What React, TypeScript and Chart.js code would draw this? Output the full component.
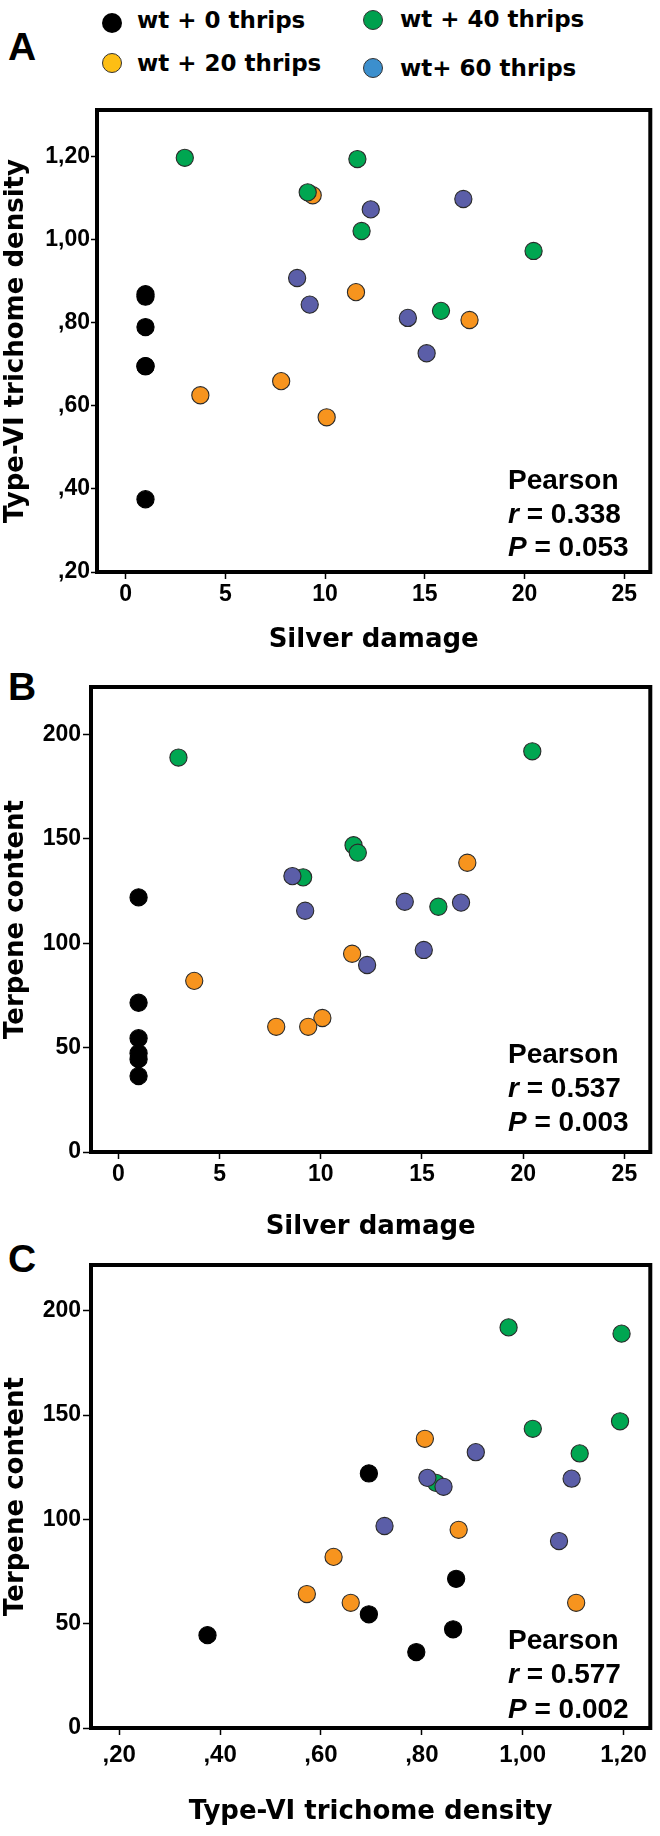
import React, { useEffect, useRef } from 'react';
import { Chart, registerables } from 'chart.js';

Chart.register(...registerables);

// ---------------- data ----------------
const GROUP_LABELS = ['wt + 0 thrips', 'wt + 20 thrips', 'wt + 40 thrips', 'wt+ 60 thrips'];

const SILVER_WT0 = [1, 1, 1, 1, 1, 1];
const DENSITY_WT0 = [0.375, 0.695, 0.695, 0.789, 0.862, 0.868];
const TERPENE_WT0 = [44.5, 122, 54.5, 36.4, 47.3, 71.5];

const SILVER_WT20 = [3.75, 7.8, 10.08, 11.55, 9.38, 17.24];
const DENSITY_WT20 = [0.625, 0.659, 0.572, 0.873, 1.106, 0.806];
const TERPENE_WT20 = [82, 60, 64.2, 95, 60, 138.6];

const SILVER_WT40 = [2.97, 11.62, 9.13, 11.83, 20.45, 15.81];
const DENSITY_WT40 = [1.196, 1.193, 1.113, 1.02, 0.972, 0.828];
const TERPENE_WT40 = [189, 147, 131.6, 143.4, 192, 117.5];

const SILVER_WT60 = [8.6, 9.23, 12.29, 14.15, 16.93, 15.09];
const DENSITY_WT60 = [0.907, 0.843, 1.072, 0.811, 1.097, 0.726];
const TERPENE_WT60 = [132.2, 115.6, 89.6, 119.9, 119.5, 96.8];

const STATS_A = ['0.338', '0.053'];
const STATS_B = ['0.537', '0.003'];
const STATS_C = ['0.577', '0.002'];

const SILVER_TICK_STEP = 5;
const DENSITY_TICK_STEP = 0.2;
const TERPENE_TICK_STEP = 50;

// ---------------- styles ----------------
const ARIAL = '"Liberation Sans", Arial, Helvetica, sans-serif';
const WIDE = '"DejaVu Sans", "Liberation Sans", Arial, sans-serif';

const PLOT_COLORS = ['#000000', '#F7941E', '#00A651', '#5B5EA8'];
const LEGEND_COLORS = ['#000000', '#FDBE14', '#00A04E', '#3C8FCD'];
const DRAW_ORDER = [3, 2, 1, 0];

const SERIES = [
  { silver: SILVER_WT0, density: DENSITY_WT0, terpene: TERPENE_WT0 },
  { silver: SILVER_WT20, density: DENSITY_WT20, terpene: TERPENE_WT20 },
  { silver: SILVER_WT40, density: DENSITY_WT40, terpene: TERPENE_WT40 },
  { silver: SILVER_WT60, density: DENSITY_WT60, terpene: TERPENE_WT60 },
];

const fmtDensity = (v: number) => {
  const s = Number(v).toFixed(2).replace('.', ',');
  return s.startsWith('0') ? s.slice(1) : s;
};
const fmtInt = (v: number) => String(Math.round(Number(v)));

type Key = 'silver' | 'density' | 'terpene';

interface PanelSpec {
  xKey: Key;
  yKey: Key;
  canvasTop: number;
  height: number;
  area: { left: number; right: number; top: number; bottom: number };
  x: { min: number; max: number; step: number; fmt: (v: number) => string; font: number; pad: number };
  y: { min: number; max: number; step: number; fmt: (v: number) => string; tickLen: number; pad: number };
  xTitle: string;
  yTitle: string;
  xTitlePad: number;
  yTitlePad: number;
  stats: string[];
  statsX: number;
  statsY: number[];
}

const framePlugin = {
  id: 'frame',
  beforeDatasetsDraw(chart: any) {
    const { ctx, chartArea } = chart;
    ctx.save();
    ctx.strokeStyle = '#000';
    ctx.lineWidth = 4;
    ctx.strokeRect(chartArea.left, chartArea.top, chartArea.right - chartArea.left, chartArea.bottom - chartArea.top);
    ctx.restore();
  },
};

const pearsonPlugin = {
  id: 'pearson',
  afterDraw(chart: any, _args: any, opts: any) {
    const { ctx } = chart;
    const x = opts.x;
    const ys = opts.y;
    const bold = `bold 28px ${ARIAL}`;
    const ital = `italic bold 28px ${ARIAL}`;
    ctx.save();
    ctx.fillStyle = '#000';
    ctx.textAlign = 'left';
    ctx.textBaseline = 'alphabetic';
    ctx.font = bold;
    ctx.fillText('Pearson', x, ys[0]);
    const line = (sym: string, val: string, y: number) => {
      ctx.font = ital;
      ctx.fillText(sym, x, y);
      const w = ctx.measureText(sym).width;
      ctx.font = bold;
      ctx.fillText(' = ' + val, x + w, y);
    };
    line('r', opts.stats[0], ys[1]);
    line('P', opts.stats[1], ys[2]);
    ctx.restore();
  },
};

function Panel({ spec }: { spec: PanelSpec }) {
  const ref = useRef<HTMLCanvasElement | null>(null);
  useEffect(() => {
    if (!ref.current) return;
    const H = spec.height;
    const datasets = SERIES.map((s, i) => ({
      label: GROUP_LABELS[i],
      data: s[spec.xKey].map((v, j) => ({ x: v, y: s[spec.yKey][j] })),
      backgroundColor: PLOT_COLORS[i],
      borderColor: i === 0 ? '#000' : '#2a2a2a',
      borderWidth: 1.1,
      pointRadius: 8.6,
      pointHoverRadius: 8.6,
      order: DRAW_ORDER[i],
      clip: false as any,
    }));
    const chart = new Chart(ref.current, {
      type: 'scatter',
      data: { datasets },
      plugins: [framePlugin, pearsonPlugin],
      options: {
        responsive: false,
        animation: false,
        events: [],
        layout: { padding: { left: 0, top: spec.area.top, right: 660 - spec.area.right, bottom: 0 } },
        plugins: {
          legend: { display: false },
          tooltip: { enabled: false },
          pearson: { x: spec.statsX, y: spec.statsY, stats: spec.stats },
        } as any,
        scales: {
          x: {
            type: 'linear',
            min: spec.x.min,
            max: spec.x.max,
            afterFit: (s: any) => {
              s.height = H - spec.area.bottom;
            },
            ticks: {
              stepSize: spec.x.step,
              includeBounds: false,
              autoSkip: false,
              maxRotation: 0,
              color: '#000',
              padding: spec.x.pad,
              font: { family: ARIAL, weight: 'bold', size: spec.x.font, lineHeight: 1 },
              callback: (v: any) => spec.x.fmt(v),
            },
            grid: {
              display: true,
              drawOnChartArea: false,
              drawTicks: true,
              tickLength: 7,
              tickColor: '#000',
              tickWidth: 1.5,
            },
            border: { display: false },
            title: {
              display: true,
              text: spec.xTitle,
              color: '#000',
              font: { family: WIDE, weight: 'bold', size: 26, lineHeight: 1 },
              padding: { top: 0, bottom: spec.xTitlePad },
            },
          },
          y: {
            type: 'linear',
            min: spec.y.min,
            max: spec.y.max,
            afterFit: (s: any) => {
              s.width = spec.area.left;
            },
            ticks: {
              stepSize: spec.y.step,
              includeBounds: false,
              autoSkip: false,
              color: '#000',
              padding: spec.y.pad,
              font: { family: ARIAL, weight: 'bold', size: 23, lineHeight: 1 },
              callback: (v: any) => spec.y.fmt(v),
            },
            grid: {
              display: true,
              drawOnChartArea: false,
              drawTicks: true,
              tickLength: spec.y.tickLen,
              tickColor: '#000',
              tickWidth: 1.5,
            },
            border: { display: false },
            title: {
              display: true,
              text: spec.yTitle,
              color: '#000',
              font: { family: WIDE, weight: 'bold', size: 26, lineHeight: 1 },
              padding: { top: spec.yTitlePad, bottom: 0 },
            },
          },
        },
      } as any,
    });
    return () => chart.destroy();
  }, [spec]);
  return (
    <canvas
      ref={ref}
      width={660}
      height={spec.height}
      style={{ position: 'absolute', left: 0, top: spec.canvasTop, width: 660, height: spec.height, display: 'block' }}
    />
  );
}

const PANELS: PanelSpec[] = [
  {
    xKey: 'silver',
    yKey: 'density',
    canvasTop: 90,
    height: 580,
    area: { left: 97, right: 653, top: 20, bottom: 482 },
    x: { min: -1.43, max: 26.3, step: SILVER_TICK_STEP, fmt: fmtInt, font: 23, pad: 4.5 },
    y: { min: 0.2, max: 1.311, step: DENSITY_TICK_STEP, fmt: fmtDensity, tickLen: 6, pad: 1 },
    xTitle: 'Silver damage',
    yTitle: 'Type-VI trichome density',
    xTitlePad: 16.4,
    yTitlePad: 2.8,
    stats: STATS_A,
    statsX: 508,
    statsY: [399, 433, 466],
  },
  {
    xKey: 'silver',
    yKey: 'terpene',
    canvasTop: 670,
    height: 580,
    area: { left: 91, right: 653, top: 17, bottom: 482 },
    x: { min: -1.35, max: 26.28, step: SILVER_TICK_STEP, fmt: fmtInt, font: 23, pad: 4.5 },
    y: { min: 0, max: 222.8, step: TERPENE_TICK_STEP, fmt: fmtInt, tickLen: 8, pad: 2 },
    xTitle: 'Silver damage',
    yTitle: 'Terpene content',
    xTitlePad: 9.7,
    yTitlePad: 2.8,
    stats: STATS_B,
    statsX: 508,
    statsY: [393, 427, 461],
  },
  {
    xKey: 'density',
    yKey: 'terpene',
    canvasTop: 1250,
    height: 586,
    area: { left: 91, right: 653, top: 15, bottom: 478 },
    x: { min: 0.144, max: 1.253, step: DENSITY_TICK_STEP, fmt: fmtDensity, font: 24, pad: 8 },
    y: { min: 0, max: 221.9, step: TERPENE_TICK_STEP, fmt: fmtInt, tickLen: 8, pad: 2 },
    xTitle: 'Type-VI trichome density',
    yTitle: 'Terpene content',
    xTitlePad: 10.7,
    yTitlePad: 2.8,
    stats: STATS_C,
    statsX: 508,
    statsY: [399, 433, 468],
  },
];

const LEGEND_LAYOUT = [
  { dotX: 112, dotY: 22.7, textX: 137, textTop: 8.5 },
  { dotX: 112, dotY: 62.7, textX: 137, textTop: 52 },
  { dotX: 373, dotY: 20, textX: 400, textTop: 7.5 },
  { dotX: 373, dotY: 68, textX: 400, textTop: 57 },
];

const LETTERS = [
  { t: 'A', top: 27 },
  { t: 'B', top: 667 },
  { t: 'C', top: 1239 },
];

export default function App() {
  return (
    <div style={{ position: 'relative', width: 660, height: 1836, background: '#fff', overflow: 'hidden' }}>
      <style>{'body{margin:0;background:#fff}'}</style>
      {GROUP_LABELS.map((label, i) => {
        const L = LEGEND_LAYOUT[i];
        return (
          <React.Fragment key={label}>
            <div
              style={{
                position: 'absolute',
                left: L.dotX - 10,
                top: L.dotY - 10,
                width: 20,
                height: 20,
                borderRadius: '50%',
                background: LEGEND_COLORS[i],
                boxSizing: 'border-box',
                border: i === 0 ? 'none' : '1px solid #333',
              }}
            />
            <div
              style={{
                position: 'absolute',
                left: L.textX,
                top: L.textTop,
                font: `bold 23px/23px ${WIDE}`,
                color: '#000',
                whiteSpace: 'nowrap',
              }}
            >
              {label}
            </div>
          </React.Fragment>
        );
      })}
      {LETTERS.map((l) => (
        <div
          key={l.t}
          style={{ position: 'absolute', left: 8, top: l.top, font: `bold 39px/39px ${ARIAL}`, color: '#000' }}
        >
          {l.t}
        </div>
      ))}
      {PANELS.map((p, i) => (
        <Panel key={i} spec={p} />
      ))}
    </div>
  );
}
